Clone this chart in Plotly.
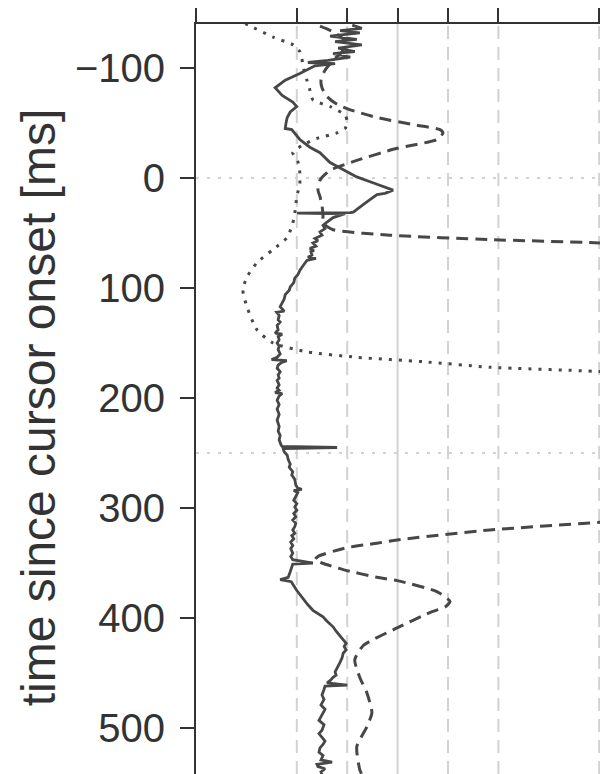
import plotly.graph_objects as go

# ---- data (x: measure, y: time since cursor onset in ms) ----
solid_t = [-139, -136, -134, -132, -129, -126, -124, -121, -118, -115, -113, -110, -107,
           -105, -104, -102, -95, -89, -82, -75, -69, -65, -60, -55, -51, -45, -44, -35, -28,
           -23, -14, -7, -1, 5, 11, 14, 15, 23, 31, 31.5, 32, 32.5,
           36, 40, 43, 46, 49, 52, 55, 57, 59, 62, 64, 66, 67, 70, 72, 73, 75,
           80, 84, 88, 91, 95, 99, 102, 106, 110, 113, 117, 121, 122, 125, 129, 131, 134, 138,
           141, 142, 144, 147, 150, 153, 156, 160, 163, 165, 166, 168, 170, 173, 176, 179, 182,
           184, 188, 191, 193, 195, 196, 198, 202, 206, 210, 215, 220, 226, 230, 234, 238, 243,
           244, 245, 246,
           249, 252, 256, 260, 263, 267, 270, 274, 279, 282, 283, 284, 286, 290, 293, 296, 299,
           302, 305, 308, 311, 314, 317, 320, 323, 325, 328, 331, 334, 337, 341, 344, 347,
           350, 351, 358, 363, 365, 367, 375, 380, 384, 388, 393, 396,
           399, 403, 408, 412, 416, 420, 423, 426, 429, 432, 436, 440, 444, 449, 452, 454, 457, 459,
           461, 462,
           465, 470, 474, 479, 483, 486, 490, 493, 497, 502, 505, 509, 512, 515, 518, 522, 525,
           529, 531, 533, 535, 537, 540, 542]
solid_v = [-0.90, -0.71, -1.14, -0.75, -1.34, -0.81, -1.24, -0.71, -1.18, -0.85, -1.28, -0.94, -1.38,
           -1.78, -1.24, -1.64, -1.94, -2.23, -2.43, -2.29, -2.08, -2.00, -2.13, -2.19, -2.21, -2.23,
           -2.10, -1.94, -1.74, -1.54, -1.34, -1.04, -0.81, -0.45, -0.09, -0.25, -0.41, -0.65, -0.88,
           -0.94, -2.00, -1.04,
           -1.28, -1.40, -1.48, -1.44, -1.54, -1.50, -1.64, -1.58, -1.68, -1.62, -1.74, -1.66, -1.72,
           -1.70, -1.78, -1.62, -1.80,
           -1.88, -1.94, -1.98, -2.04, -2.06, -2.13, -2.15, -2.23, -2.25, -2.29, -2.33, -2.25, -2.40,
           -2.35, -2.37, -2.33, -2.39, -2.37,
           -2.43, -2.29, -2.37, -2.35, -2.39, -2.35, -2.37, -2.33, -2.39, -2.50, -2.20, -2.31, -2.37,
           -2.39, -2.33, -2.37, -2.35,
           -2.39, -2.35, -2.39, -2.35, -2.43, -2.29, -2.35, -2.39, -2.35, -2.39, -2.35, -2.39, -2.35,
           -2.37, -2.33, -2.35, -2.31,
           -2.29, -1.20, -2.27,
           -2.25, -2.19, -2.17, -2.13, -2.15, -2.08, -2.10, -2.04, -2.02, -1.98, -1.90, -2.06, -1.98,
           -2.02, -2.06, -2.00, -2.04,
           -2.00, -2.06, -2.02, -2.08, -2.02, -2.04, -2.08, -2.04, -2.10, -2.06, -2.12, -2.08, -2.12,
           -2.08, -2.12, -2.08,
           -1.68, -2.08, -2.13, -2.17, -2.33, -2.11, -2.00, -1.92, -1.84, -1.78, -1.68, -1.58,
           -1.48, -1.40, -1.28, -1.22, -1.14, -1.08, -1.02, -1.06, -1.02, -1.08, -1.10, -1.14, -1.18,
           -1.24, -1.22, -1.28, -1.34, -1.40,
           -1.00, -1.44,
           -1.46, -1.50, -1.46, -1.52, -1.44, -1.48, -1.52, -1.56, -1.46, -1.50, -1.56, -1.50, -1.44,
           -1.48, -1.54, -1.56, -1.48,
           -1.52, -1.30, -1.60, -1.58, -1.44, -1.52, -1.50]

dashed_t = [-138, -132, -124, -115, -107, -98, -89, -82, -74, -67, -62, -55, -48, -44, -41, -35, -27,
            -16, -7, 2, 11, 17, 25, 34, 41, 47, 52, 56, 59, 72, 180, 295, 313, 320, 329, 332, 336,
            344, 347, 350, 356, 363, 366, 376, 385, 390, 395, 409, 425, 438, 454, 468, 486, 499,
            517, 538, 542]
dashed_v = [-1.54, -1.24, -1.04, -1.10, -1.28, -1.44, -1.52, -1.50, -1.40, -1.20, -0.94, -0.41, 0.38,
            0.84, 0.90, 0.78, -0.01, -0.81, -1.34, -1.54, -1.58, -1.54, -1.50, -1.48, -1.48, -1.28,
            -0.15, 1.83, 4.02, 10.0, 12.0, 10.0, 4.02, 1.83, -0.01, -0.41, -1.00, -1.58, -1.64, -1.50,
            -1.08, -0.41, -0.01, 0.78, 1.04, 0.94, 0.64, -0.01, -0.68, -0.85, -0.75, -0.61, -0.51,
            -0.61, -0.81, -0.75, -0.71]

dotted_t = [-160, -139, -128, -121, -115, -109, -102, -89, -80, -71, -65, -57, -51, -45, -41, -36,
            -30, -23, -15, -5, 5, 17, 32, 41, 54, 65, 77, 90, 102, 117, 138, 150, 158, 163, 167,
            172, 176, 200]
dotted_v = [-3.92, -2.96, -2.47, -2.07, -1.94, -1.90, -1.88, -1.80, -1.74, -1.68, -1.34, -1.04, -1.00,
            -1.04, -1.20, -1.60, -1.88, -2.08, -1.98, -1.94, -1.94, -2.00, -2.04, -2.08, -2.19, -2.47,
            -2.79, -2.99, -3.07, -2.99, -2.79, -2.47, -1.80, -0.80, 0.51, 1.83, 4.02, 12.0]

x_ticks = [-4, -2, -1, 0, 1, 2, 4]
dashed_grid = [-2, -1, 1, 2, 4]
solid_grid = [0]
h_lines = [0, 250]
y_ticks = [-100, 0, 100, 200, 300, 400, 500]
y_labels = ["\u2212100", "0", "100", "200", "300", "400", "500"]

LINE = "#474747"
AX = "#333333"
GRID = "#d2d2d2"

fig = go.Figure()
fig.add_trace(go.Scatter(x=dotted_v, y=dotted_t, mode="lines", line=dict(color=LINE, width=3, dash="3px,7px", shape="spline", smoothing=0.6), hoverinfo="skip"))
fig.add_trace(go.Scatter(x=dashed_v, y=dashed_t, mode="lines", line=dict(color=LINE, width=3, dash="12px,7px", shape="spline", smoothing=0.6), hoverinfo="skip"))
fig.add_trace(go.Scatter(x=solid_v, y=solid_t, mode="lines", line=dict(color=LINE, width=2.8), hoverinfo="skip"))

shapes = []
for g in dashed_grid:
    shapes.append(dict(type="line", xref="x", yref="paper", x0=g, x1=g, y0=0, y1=1, layer="below",
                       line=dict(color=GRID, width=2, dash="13px,8px")))
for g in solid_grid:
    shapes.append(dict(type="line", xref="x", yref="paper", x0=g, x1=g, y0=0, y1=1, layer="below",
                       line=dict(color=GRID, width=2)))
for h in h_lines:
    shapes.append(dict(type="line", xref="paper", yref="y", x0=0, x1=1, y0=h, y1=h, layer="below",
                       line=dict(color=GRID, width=2, dash="3px,8px")))

fig.update_layout(
    width=600, height=774,
    margin=dict(l=196, r=0, t=24, b=0),
    plot_bgcolor="white", paper_bgcolor="white",
    showlegend=False,
    shapes=shapes,
    font=dict(family="Liberation Sans, Arial, sans-serif", color=AX),
    xaxis=dict(side="top", range=[-4, 4.016], tickvals=x_ticks, showticklabels=False,
               ticks="outside", ticklen=14, tickwidth=2, tickcolor=AX,
               showline=True, linecolor=AX, linewidth=2, showgrid=False, zeroline=False),
    yaxis=dict(range=[541.8, -140], tickvals=y_ticks, ticktext=y_labels,
               ticks="outside", ticklen=14, tickwidth=2, tickcolor=AX,
               tickfont=dict(size=40, color=AX), ticklabelstandoff=7,
               showline=True, linecolor=AX, linewidth=2, showgrid=False, zeroline=False),
    annotations=[dict(text="time since cursor onset [ms]", xref="paper", yref="paper",
                      x=-0.391, y=0.489, textangle=-90, showarrow=False,
                      xanchor="center", yanchor="middle",
                      font=dict(size=48, color=AX))],
)

fig.write_html("out.html", config={"displayModeBar": False},
               post_script="document.body.style.margin='0';document.body.style.overflow='hidden';")
